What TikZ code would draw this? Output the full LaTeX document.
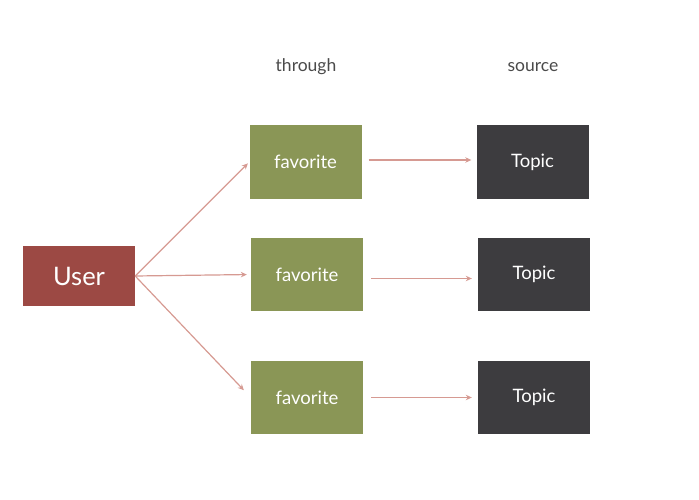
\documentclass[tikz,border=0pt]{standalone}
\usepackage{fontspec}
\setmainfont{Lato}
\usetikzlibrary{arrows.meta}
\definecolor{userred}{HTML}{9C4944}
\definecolor{favgreen}{HTML}{8A9656}
\definecolor{topicgray}{HTML}{3D3C3F}
\definecolor{linkpink}{HTML}{D69A92}
\definecolor{labelgray}{HTML}{4A4A4A}
\begin{document}
\begin{tikzpicture}[x=1pt, y=-1pt,
  box/.style={minimum width=112pt, minimum height=73pt, inner sep=0pt, text=white, font=\fontsize{18.5}{18.5}\selectfont},
  userbox/.style={box, fill=userred, minimum height=60pt, font=\fontsize{25.5}{25.5}\selectfont},
  favbox/.style={box, fill=favgreen},
  topicbox/.style={box, fill=topicgray},
  head/.style={text=labelgray, font=\fontsize{17.5}{17.5}\selectfont},
  link/.style={draw=linkpink, line width=1.2pt, -{Stealth[length=6pt, width=5.5pt]}}]
\useasboundingbox (0,0) rectangle (699,500);
\node[head] (through) at (306,67) {through};
\node[head] (source) at (533,67) {source};
\node[userbox] (user) at (79,276) {User};
\node[favbox] (fav1) at (305.5,162) {favorite};
\node[favbox] (fav2) at (307,274.5) {favorite};
\node[favbox] (fav3) at (307,397.5) {favorite};
\node[topicbox] (topic1) at (532.5,162) {Topic};
\node[topicbox] (topic2) at (534,274.5) {Topic};
\node[topicbox] (topic3) at (534,397.5) {Topic};
\draw[link, shorten >=2pt] (user.east) -- (fav1.west);
\draw[link, shorten >=4pt] (user.east) -- (fav2.west);
\draw[link, shorten >=10pt] (user.east) -- (fav3.west);
\draw[link, shorten <=7pt, shorten >=5pt] ([yshift=2pt]fav1.east) -- ([yshift=2pt]topic1.west);
\draw[link, shorten <=8pt, shorten >=6pt] ([yshift=-4pt]fav2.east) -- ([yshift=-4pt]topic2.west);
\draw[link, shorten <=8pt, shorten >=6pt] (fav3.east) -- (topic3.west);
\end{tikzpicture}
\end{document}
